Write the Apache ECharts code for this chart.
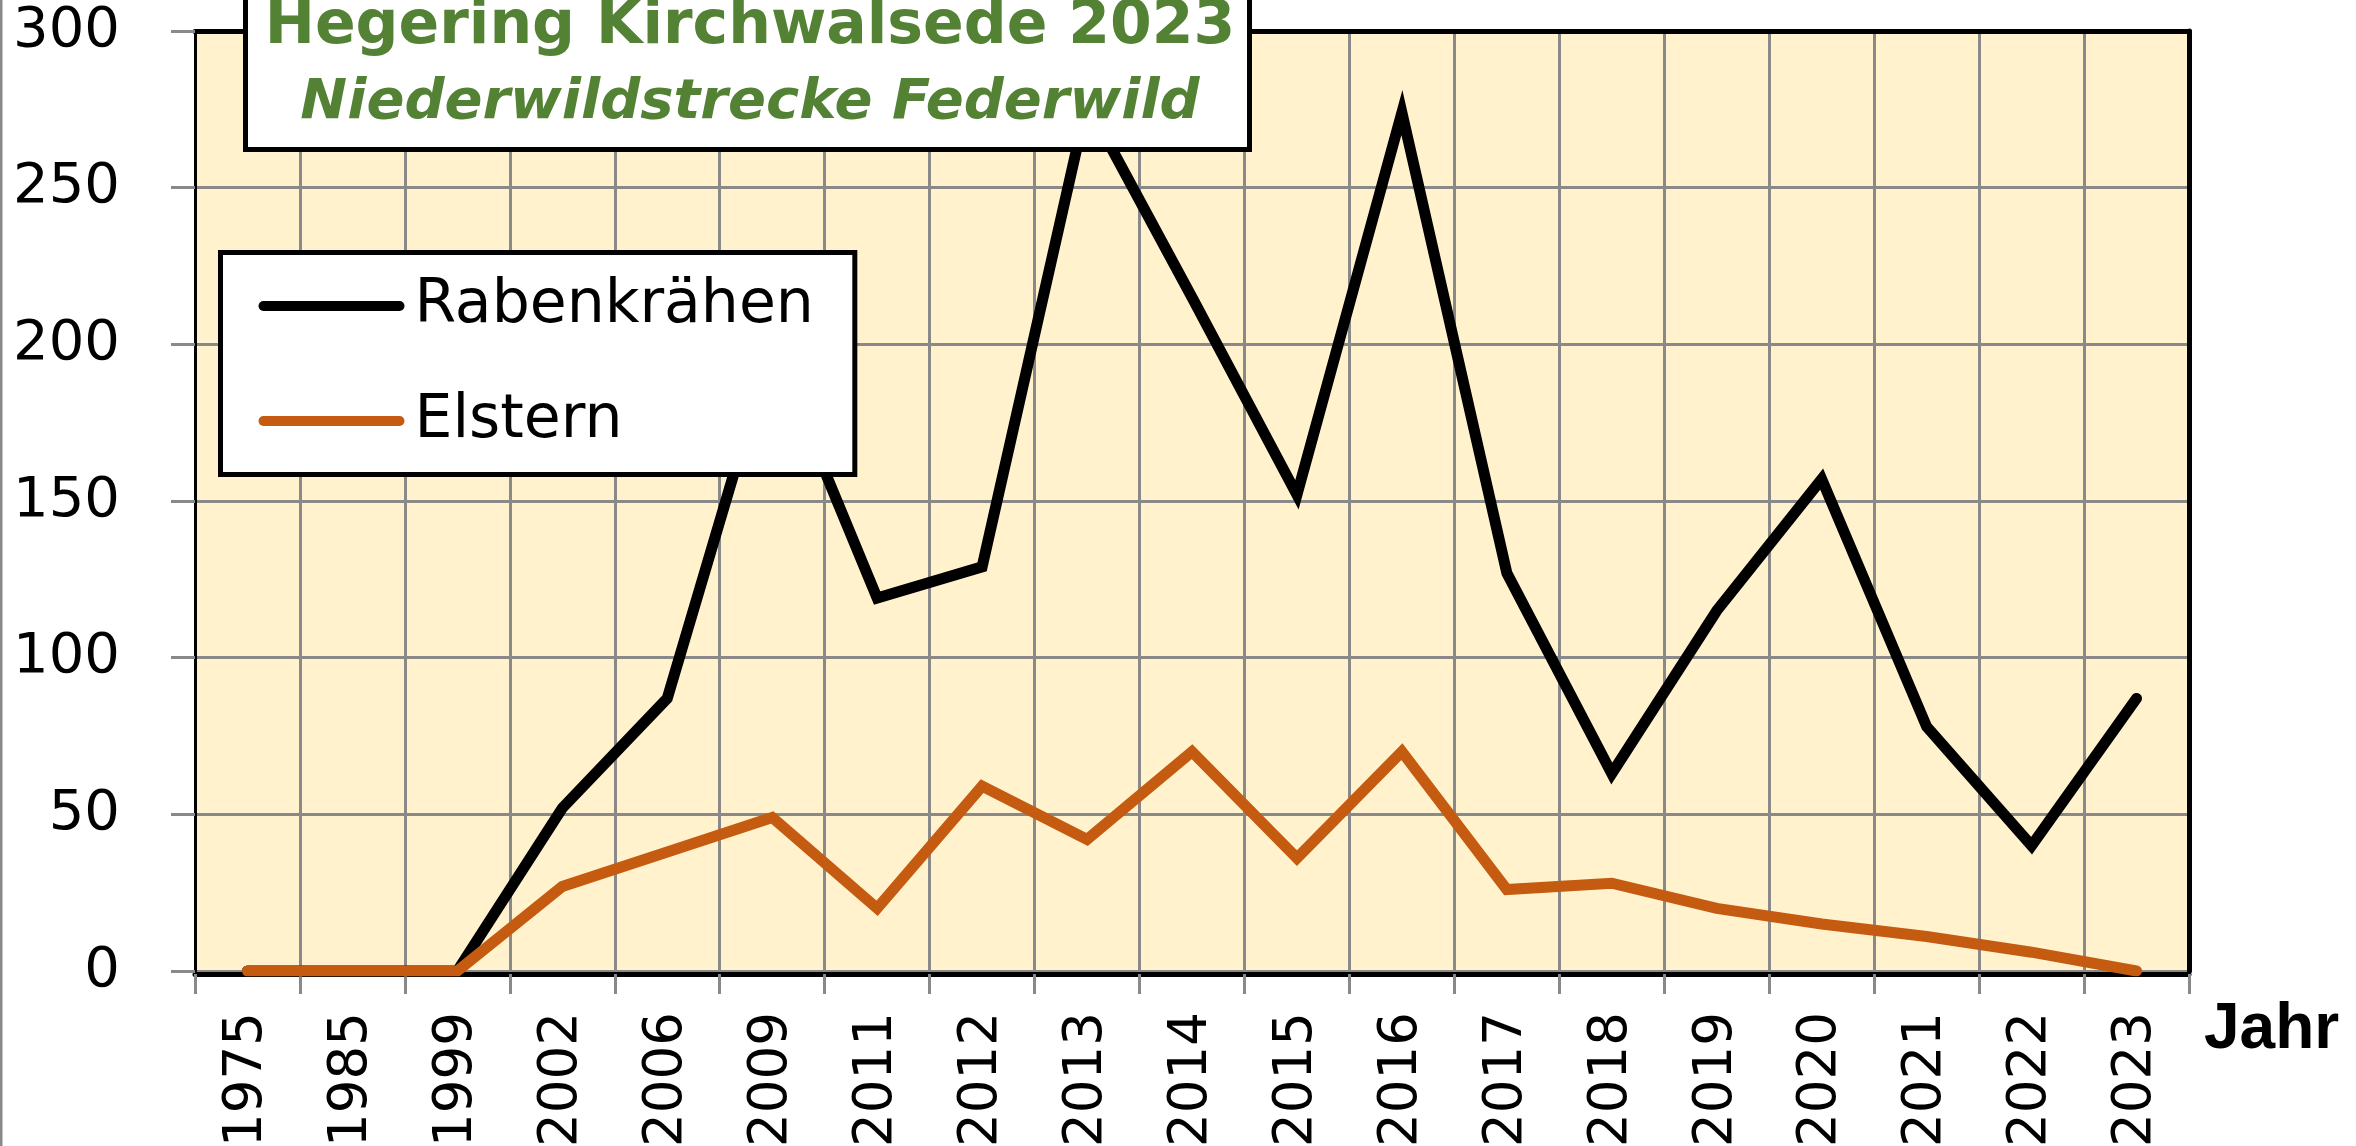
<!DOCTYPE html>
<html>
<head>
<meta charset="utf-8">
<title>Hegering Kirchwalsede 2023</title>
<script src="https://cdn.jsdelivr.net/npm/echarts@6/dist/echarts.min.js"></script>
<style>
    html, body { margin: 0; padding: 0; background: #fff; }
    #main { width: 2356px; height: 1146px; }
</style>
</head>
<body>
<div id="main"></div>
<script>
// Strecke je Jahr
var jahre = ['1975', '1985', '1999', '2002', '2006', '2009', '2011', '2012', '2013', '2014',
    '2015', '2016', '2017', '2018', '2019', '2020', '2021', '2022', '2023'];
var rabenkraehen = [0, 0, 0, 52, 87, 200, 119, 129, 277, 215, 152, 274, 127, 63, 115, 157, 78, 40, 87];
var elstern = [0, 0, 0, 27, 38, 49, 20, 59, 42, 70, 36, 70, 26, 28, 20, 15, 11, 6, 0];
var yAchse = [0, 300, 50]; // min, max, interval

var gruen = '#548235';
var grau = '#898989';

var chart = echarts.init(document.getElementById('main'));

var option = {
    backgroundColor: '#ffffff',
    animation: false,
    grid: {
        left: 195,
        right: 167,
        top: 31,
        bottom: 175,
        outerBoundsMode: 'none',
        containLabel: false,
        show: true,
        backgroundColor: '#FFF2CC',
        borderWidth: 0
    },
    legend: {
        orient: 'vertical',
        left: 220.5,
        top: 252.5,
        padding: [23.5, 41, 23.5, 38],
        backgroundColor: '#ffffff',
        borderColor: '#000000',
        borderWidth: 5,
        itemWidth: 136,
        itemHeight: 10,
        itemGap: 55,
        lineStyle: { width: 10, cap: 'round' },
        textStyle: {
            fontFamily: 'DejaVu Sans',
            fontSize: 60,
            lineHeight: 60,
            color: '#000',
            padding: [0, 0, 0, 10]
        },
        data: ['Rabenkrähen', 'Elstern']
    },
    xAxis: [{
        type: 'category',
        data: jahre,
        boundaryGap: true,
        offset: 3,
        axisLine: { onZero: false, lineStyle: { color: '#000', width: 5 } },
        axisTick: { show: true, length: 20, interval: 0, lineStyle: { color: grau, width: 3 } },
        axisLabel: {
            interval: 0,
            rotate: 90,
            margin: 38,
            fontFamily: 'DejaVu Sans',
            fontSize: 53,
            color: '#000'
        },
        splitLine: { show: true, interval: 0, lineStyle: { color: grau, width: 3 } }
    }, {
        type: 'category',
        data: jahre,
        position: 'top',
        axisLine: { onZero: false, lineStyle: { color: '#000', width: 5 } },
        axisTick: { show: false },
        axisLabel: { show: false },
        splitLine: { show: false }
    }],
    yAxis: [{
        type: 'value',
        min: yAchse[0],
        max: yAchse[1],
        interval: yAchse[2],
        axisLine: { show: true, onZero: false, lineStyle: { color: '#000', width: 3 } },
        axisTick: { show: true, length: 24, lineStyle: { color: grau, width: 3 } },
        axisLabel: {
            margin: 75,
            fontFamily: 'DejaVu Sans',
            fontSize: 56,
            color: '#000'
        },
        splitLine: { show: true, lineStyle: { color: grau, width: 3 } }
    }, {
        type: 'value',
        min: yAchse[0],
        max: yAchse[1],
        interval: yAchse[2],
        position: 'right',
        axisLine: { show: true, onZero: false, lineStyle: { color: '#000', width: 5 } },
        axisTick: { show: false },
        axisLabel: { show: false },
        splitLine: { show: false }
    }],
    series: [{
        name: 'Rabenkrähen',
        type: 'line',
        data: rabenkraehen,
        symbol: 'none',
        color: '#000000',
        lineStyle: { color: '#000000', width: 11, cap: 'round', join: 'miter' },
        z: 3
    }, {
        name: 'Elstern',
        type: 'line',
        data: elstern,
        symbol: 'none',
        color: '#C55A11',
        lineStyle: { color: '#C55A11', width: 11, cap: 'round', join: 'miter' },
        z: 3
    }],
    graphic: [
        // Rahmen links (Diagrammfläche)
        {
            type: 'line', z: 90,
            shape: { x1: 1, y1: 0, x2: 1, y2: 1146 },
            style: { stroke: grau, lineWidth: 3 }
        },
        // Titelkasten
        {
            type: 'rect', z: 100,
            shape: { x: 245.5, y: -10, width: 1004, height: 159.5 },
            style: { fill: '#ffffff', stroke: '#000000', lineWidth: 5 }
        },
        {
            type: 'text', z: 101, x: 750, y: 27,
            style: {
                text: 'Hegering Kirchwalsede 2023',
                fontFamily: 'DejaVu Sans', fontWeight: 'bold', fontSize: 60,
                fill: gruen, align: 'center', verticalAlign: 'middle'
            }
        },
        {
            type: 'text', z: 101, x: 750, y: 103,
            style: {
                text: 'Niederwildstrecke Federwild',
                fontFamily: 'DejaVu Sans', fontWeight: 'bold', fontStyle: 'italic', fontSize: 56,
                fill: gruen, align: 'center', verticalAlign: 'middle'
            }
        },
        // Achsentitel
        {
            type: 'text', z: 101, x: 2204, y: 1030,
            style: {
                text: 'Jahr',
                fontFamily: 'Liberation Sans', fontWeight: 'bold', fontSize: 64,
                fill: '#000', align: 'left', verticalAlign: 'middle'
            }
        }
    ]
};

chart.setOption(option);
</script>
</body>
</html>
